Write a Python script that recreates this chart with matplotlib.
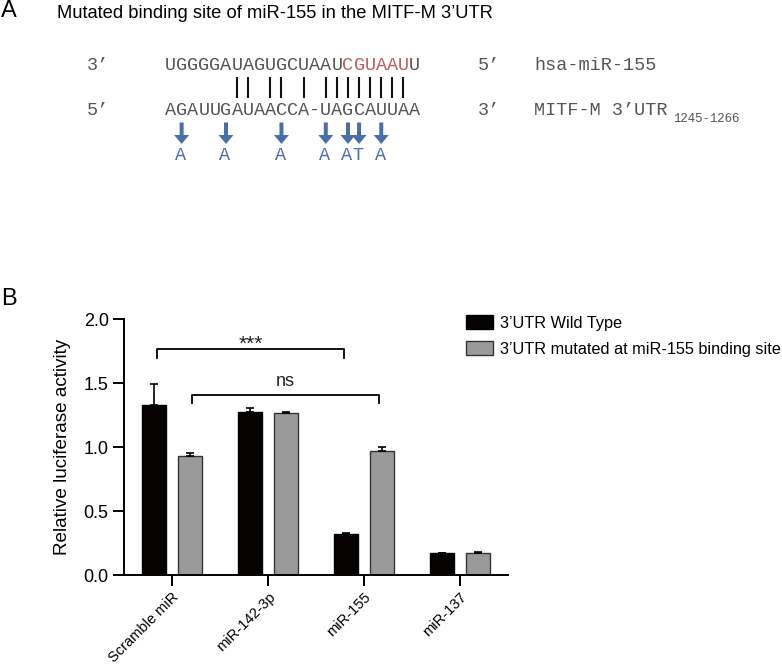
import numpy as np
import matplotlib as mpl
import matplotlib.pyplot as plt
from matplotlib.patches import Patch

mpl.rcParams.update({"font.family": "Liberation Sans"})
MONO = "Liberation Mono"

# ---- panel A data ----
MIR_SEQ = "UGGGGAUAGUGCUAAUCGUAAUU"
UTR_SEQ = "AGAUUGAUAACCA-UAGCAUUAA"
SEED = range(16, 22)                     # red seed positions on miR-155
PAIRS = [6, 7, 9, 10, 12, 14, 15, 16, 17, 18, 19, 20, 21]
MUT_POS = [1, 5, 10, 14, 16, 17, 19]
MUT_BASE = ["A", "A", "A", "A", "A", "T", "A"]

# ---- panel B data ----
groups = ["Scramble miR", "miR-142-3p", "miR-155", "miR-137"]
wt_mean = [1.328, 1.272, 0.318, 0.170]
wt_err = [0.165, 0.030, 0.008, 0.005]
mut_mean = [0.928, 1.268, 0.968, 0.175]
mut_err = [0.028, 0.006, 0.030, 0.005]
series = ["3\u2019UTR Wild Type", "3\u2019UTR mutated at miR-155 binding site"]

BLUE = "#4a6fa8"
RED = "#c25a5e"
SEQ = "#555555"
GREY = "#999b9b"

fig = plt.figure(figsize=(7.82, 6.67), dpi=100)

# overlay in pixel coordinates for panel A and panel letters
ov = fig.add_axes([0, 0, 1, 1])
ov.set_xlim(0, 782)
ov.set_ylim(667, 0)
ov.axis("off")

ov.text(1, 11, "A", fontsize=17, va="center", ha="left")
ov.text(57, 13, "Mutated binding site of miR-155 in the MITF-M 3\u2019UTR",
        fontsize=13.2, va="center", ha="left")
ov.text(1, 299, "B", fontsize=17, va="center", ha="left")

x0, cw = 165, 11.09          # sequence start, char width (px)
y_top, y_bot = 66, 110.5


def cx(i):
    return x0 + cw * (i + 0.5)


for i, ch in enumerate(MIR_SEQ):
    ov.text(cx(i), y_top, ch, family=MONO, fontsize=13.3, ha="center",
            va="center", color=RED if i in SEED else SEQ)
for i, ch in enumerate(UTR_SEQ):
    ov.text(cx(i), y_bot, ch, family=MONO, fontsize=13.3, ha="center",
            va="center", color=SEQ)
for i in PAIRS:
    ov.plot([cx(i), cx(i)], [77, 98], color="#111111", lw=1.5,
            solid_capstyle="butt")
for i, b in zip(MUT_POS, MUT_BASE):
    ov.arrow(cx(i), 122.5, 0, 21.5, width=4, head_width=15,
             head_length=9, length_includes_head=True, color=BLUE, lw=0)
    ov.text(cx(i) - 1, 156, b, family=MONO, fontsize=13.3, ha="center",
            va="center", color=BLUE)

ov.text(87, y_top, "3\u2019", family=MONO, fontsize=13.3, va="center", color=SEQ)
ov.text(87, y_bot, "5\u2019", family=MONO, fontsize=13.3, va="center", color=SEQ)
ov.text(478, y_top, "5\u2019", family=MONO, fontsize=13.3, va="center", color=SEQ)
ov.text(478, y_bot, "3\u2019", family=MONO, fontsize=13.3, va="center", color=SEQ)
ov.text(534, y_top, "hsa-miR-155", family=MONO, fontsize=13.3, va="center", color=SEQ)
ov.text(534, y_bot, "MITF-M 3\u2019UTR", family=MONO, fontsize=13.3, va="center", color=SEQ)
ov.text(673, 119, "1245-1266", family=MONO, fontsize=8.9, va="center", color=SEQ)

# ---- panel B ----
ax = fig.add_axes([124 / 782, 92 / 667, 384 / 782, 256 / 667])
x = np.arange(len(groups))
w, off = 0.255, 0.187
ax.bar(x - off, wt_mean, w, color="#060202", edgecolor="#000000", lw=1.0,
       yerr=[np.zeros(len(x)), wt_err], capsize=3,
       error_kw=dict(ecolor="black", elinewidth=1.2, capthick=1.2),
       label=series[0], zorder=2)
ax.bar(x + off, mut_mean, w, color=GREY, edgecolor="#333333", lw=1.0,
       yerr=[np.zeros(len(x)), mut_err], capsize=3,
       error_kw=dict(ecolor="black", elinewidth=1.2, capthick=1.2),
       label=series[1], zorder=2)

ax.set_xlim(-0.5, 3.5)
ax.set_ylim(0, 2.0)
ax.set_yticks([0, 0.5, 1.0, 1.5, 2.0])
ax.set_yticklabels(["0.0", "0.5", "1.0", "1.5", "2.0"])
ax.set_xticks(x)
ax.set_xticklabels(groups, rotation=45, ha="right", rotation_mode="anchor")
ax.tick_params(axis="both", length=8, width=1.4, direction="out")
ax.tick_params(axis="y", labelsize=13, pad=3)
ax.tick_params(axis="x", labelsize=10.5, pad=3)
for s in ["top", "right"]:
    ax.spines[s].set_visible(False)
for s in ["left", "bottom"]:
    ax.spines[s].set_linewidth(1.4)
ax.set_ylabel("Relative luciferase activity", fontsize=13.6)
ax.yaxis.set_label_coords(-0.137, 0.5)


def bracket(xa, xb, y, drop, label, ty, fs):
    ax.plot([xa, xa, xb, xb], [y - drop, y, y, y - drop], color="black",
            lw=1.3, clip_on=False)
    ax.text((xa + xb) / 2, ty, label, ha="center", va="center", fontsize=fs,
            color="#222222")


bracket(x[0] - off + 0.028, x[2] - off - 0.017, 1.763, 0.068, "***", 1.80, 15)
bracket(x[0] + off + 0.018, x[2] + off - 0.027, 1.406, 0.062, "ns", 1.51, 13)

handles = [Patch(facecolor="#060202", edgecolor="black", lw=1.0),
           Patch(facecolor=GREY, edgecolor="#333333", lw=1.0)]
fig.legend(handles, series, loc="upper left", bbox_to_anchor=(466 / 782, 1 - 315 / 667),
           frameon=False, fontsize=11.7, handlelength=1.65, handleheight=0.95,
           handletextpad=0.45, labelspacing=0.65, borderaxespad=0, borderpad=0)

fig.savefig("out.png", dpi=100)
